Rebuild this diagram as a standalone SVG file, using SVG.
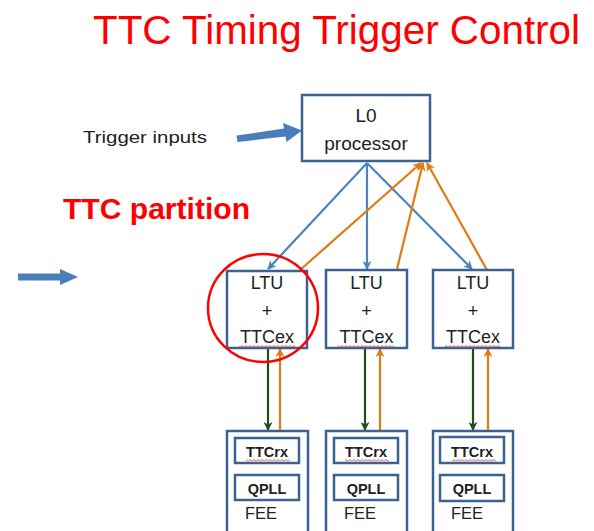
<svg xmlns="http://www.w3.org/2000/svg" width="594" height="531" viewBox="0 0 594 531">
  <style>
    .box { fill: #ffffff; stroke: #3b6392; stroke-width: 2.5; }
    .inner { fill: #ffffff; stroke: #3b6392; stroke-width: 2.5; }
    .lbl { font-family: "Liberation Sans", Arial, sans-serif; font-size: 18px; fill: #222222; text-anchor: middle; }
    .l0 { font-size: 19px; }
    .blbl { font-family: "Liberation Sans", Arial, sans-serif; font-size: 14.5px; font-weight: bold; fill: #222222; text-anchor: middle; }
    .fee { font-family: "Liberation Sans", Arial, sans-serif; font-size: 16.5px; fill: #222222; }
    .blue { stroke: #4f81bd; stroke-width: 2.2; fill: none; }
    .orange { stroke: #e07b14; stroke-width: 2.2; fill: none; }
    .green { stroke: #1f4e1f; stroke-width: 2.2; fill: none; }
    .squig { fill: url(#squiggle); }
    .blockarrow { fill: #4a7ebb; }
  </style>
  <defs>
    <marker id="ah-blue" viewBox="0 0 10 10" refX="9" refY="5" markerWidth="9" markerHeight="9" markerUnits="userSpaceOnUse" orient="auto">
      <path d="M0,0 L10,5 L0,10 L3,5 z" fill="#4f81bd"/>
    </marker>
    <marker id="ah-orange" viewBox="0 0 10 10" refX="9" refY="5" markerWidth="9" markerHeight="9" markerUnits="userSpaceOnUse" orient="auto">
      <path d="M0,0 L10,5 L0,10 L3,5 z" fill="#e07b14"/>
    </marker>
    <marker id="ah-green" viewBox="0 0 10 10" refX="9" refY="5" markerWidth="9" markerHeight="9" markerUnits="userSpaceOnUse" orient="auto">
      <path d="M0,0 L10,5 L0,10 L3,5 z" fill="#1f4e1f"/>
    </marker>
    <pattern id="squiggle" x="0" y="0" width="4" height="3" patternUnits="userSpaceOnUse">
      <polyline points="0,2.5 2,0.5 4,2.5" fill="none" stroke="#e03030" stroke-width="0.9"/>
    </pattern>
  </defs>

  <rect x="0" y="0" width="594" height="531" fill="#ffffff"/>

  <g id="title">
    <text x="93" y="44" font-family="'Liberation Sans', Arial, sans-serif" font-size="40" fill="#ff0000" textLength="487" lengthAdjust="spacingAndGlyphs">TTC Timing Trigger Control</text>
  </g>

  <g id="trigger-inputs">
    <text x="83" y="143" font-family="'Liberation Sans', Arial, sans-serif" font-size="17" fill="#222222" textLength="124" lengthAdjust="spacingAndGlyphs">Trigger inputs</text>
    <polygon class="blockarrow" points="236.5,135.5 284,128.5 283,123 302,130.5 286.5,142 285.5,136.5 237.5,142"/>
  </g>

  <g id="ttc-partition">
    <text x="63" y="219" font-family="'Liberation Sans', Arial, sans-serif" font-size="29" font-weight="bold" fill="#ff0000" textLength="187" lengthAdjust="spacingAndGlyphs">TTC partition</text>
    <polygon class="blockarrow" points="18,273.5 60,273.5 60,269 78,277 60,285 60,280.5 18,280.5"/>
  </g>

  <g id="connectors">
    <line class="blue" x1="367" y1="163" x2="268" y2="269" marker-end="url(#ah-blue)"/>
    <line class="blue" x1="367" y1="163" x2="367" y2="269" marker-end="url(#ah-blue)"/>
    <line class="blue" x1="367" y1="163" x2="472" y2="269" marker-end="url(#ah-blue)"/>
    <line class="orange" x1="300" y1="270" x2="421" y2="163" marker-end="url(#ah-orange)"/>
    <line class="orange" x1="397" y1="269" x2="423" y2="163" marker-end="url(#ah-orange)"/>
    <line class="orange" x1="487" y1="270" x2="427" y2="163" marker-end="url(#ah-orange)"/>
    <line class="green" x1="268" y1="349" x2="268" y2="430" marker-end="url(#ah-green)"/>
    <line class="orange" x1="280" y1="431" x2="280" y2="349" marker-end="url(#ah-orange)"/>
    <line class="green" x1="365" y1="349" x2="365" y2="430" marker-end="url(#ah-green)"/>
    <line class="orange" x1="380" y1="431" x2="380" y2="349" marker-end="url(#ah-orange)"/>
    <line class="green" x1="473" y1="349" x2="473" y2="430" marker-end="url(#ah-green)"/>
    <line class="orange" x1="488" y1="431" x2="488" y2="349" marker-end="url(#ah-orange)"/>
  </g>

  <g id="l0-processor">
    <rect class="box" x="302" y="95" width="128" height="66"/>
    <text class="lbl l0" x="366" y="122">L0</text>
    <text class="lbl l0" x="366" y="150">processor</text>
  </g>

  <g id="ltu1">
    <rect class="box" x="227" y="271" width="80" height="77"/>
    <text class="lbl" x="267" y="289">LTU</text>
    <text class="lbl" x="267" y="317">+</text>
    <text class="lbl" x="267" y="343">TTCex</text>
    <rect class="squig" x="239" y="345" width="56" height="3"/>
  </g>
  <g id="ltu2">
    <rect class="box" x="326" y="270" width="81" height="78"/>
    <text class="lbl" x="366.5" y="289">LTU</text>
    <text class="lbl" x="366.5" y="317">+</text>
    <text class="lbl" x="366.5" y="343">TTCex</text>
    <rect class="squig" x="338" y="345" width="56" height="3"/>
  </g>
  <g id="ltu3">
    <rect class="box" x="433" y="270" width="80" height="78"/>
    <text class="lbl" x="473" y="289">LTU</text>
    <text class="lbl" x="473" y="317">+</text>
    <text class="lbl" x="473" y="343">TTCex</text>
    <rect class="squig" x="445" y="345" width="56" height="3"/>
  </g>

  <g id="highlight">
    <ellipse cx="263" cy="308" rx="55" ry="54" fill="none" stroke="#ff0000" stroke-width="2.5"/>
  </g>

  <g id="fee1">
    <rect class="box" x="227" y="431" width="81" height="110"/>
    <rect class="inner" x="235" y="438" width="64" height="25"/>
    <text class="blbl" x="267" y="457">TTCrx</text>
    <rect class="squig" x="246" y="459" width="44" height="3"/>
    <rect class="inner" x="235" y="475" width="64" height="25"/>
    <text class="blbl" x="267" y="494">QPLL</text>
    <text class="fee" x="245" y="519">FEE</text>
  </g>
  <g id="fee2">
    <rect class="box" x="326" y="431" width="81" height="110"/>
    <rect class="inner" x="334" y="438" width="64" height="25"/>
    <text class="blbl" x="366" y="457">TTCrx</text>
    <rect class="squig" x="345" y="459" width="44" height="3"/>
    <rect class="inner" x="334" y="475" width="64" height="25"/>
    <text class="blbl" x="366" y="494">QPLL</text>
    <text class="fee" x="344" y="519">FEE</text>
  </g>
  <g id="fee3">
    <rect class="box" x="433" y="431" width="80" height="110"/>
    <rect class="inner" x="440" y="437" width="64" height="26"/>
    <text class="blbl" x="472" y="457">TTCrx</text>
    <rect class="squig" x="452" y="459" width="44" height="3"/>
    <rect class="inner" x="440" y="475" width="64" height="26"/>
    <text class="blbl" x="472" y="494">QPLL</text>
    <text class="fee" x="451" y="519">FEE</text>
  </g>
</svg>
